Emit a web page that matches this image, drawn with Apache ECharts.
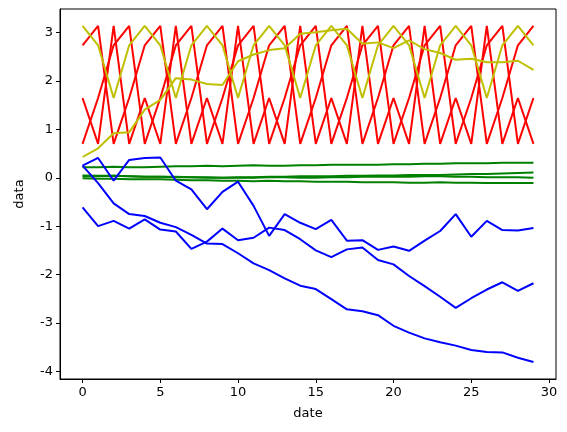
<!DOCTYPE html>
<html><head><meta charset="utf-8">
<script src="https://cdn.jsdelivr.net/npm/echarts@6/dist/echarts.min.js"></script>
<style>html,body{margin:0;padding:0;background:#fff}#c{width:567px;height:432px}</style>
</head><body><div id="c"></div>
<script>
const dates = Array.from({length:30},(_, i)=>i);
const xTicks = [0,5,10,15,20,25,30];
const yTicks = [-4,-3,-2,-1,0,1,2,3];
const redA = [2.74,3.14,0.70,1.65,2.74,3.14,0.70,1.65,2.74,3.14,0.70,1.65,2.74,3.14,0.70,1.65,2.74,3.14,0.70,1.65,2.74,3.14,0.70,1.65,2.74,3.14,0.70,1.65,2.74,3.14];
const redB = [1.65,0.70,3.14,0.70,1.65,0.70,3.14,0.70,1.65,0.70,3.14,0.70,1.65,0.70,3.14,0.70,1.65,0.70,3.14,0.70,1.65,0.70,3.14,0.70,1.65,0.70,3.14,0.70,1.65,0.70];
const redC = [0.70,1.65,2.74,3.14,0.70,1.65,2.74,3.14,0.70,1.65,2.74,3.14,0.70,1.65,2.74,3.14,0.70,1.65,2.74,3.14,0.70,1.65,2.74,3.14,0.70,1.65,2.74,3.14,0.70,1.65];
const yellow1 = [3.14,2.74,1.65,2.74,3.14,2.74,1.65,2.74,3.14,2.74,1.65,2.74,3.14,2.74,1.65,2.74,3.14,2.74,1.65,2.74,3.14,2.74,1.65,2.74,3.14,2.74,1.65,2.74,3.14,2.74];
const yellow2 = [0.43,0.61,0.92,0.94,1.41,1.61,2.06,2.03,1.94,1.92,2.41,2.55,2.64,2.68,2.98,3.01,3.05,3.08,2.77,2.80,2.68,2.84,2.66,2.58,2.44,2.46,2.39,2.39,2.42,2.23];
const green1 = [0.22,0.22,0.23,0.22,0.22,0.23,0.24,0.24,0.25,0.24,0.25,0.26,0.25,0.25,0.26,0.26,0.27,0.27,0.27,0.27,0.28,0.28,0.29,0.29,0.30,0.30,0.30,0.31,0.31,0.31];
const green2 = [0.05,0.04,0.04,0.03,0.02,0.02,0.01,0.01,0.00,0.00,0.01,0.01,0.02,0.02,0.03,0.03,0.03,0.04,0.04,0.05,0.05,0.06,0.06,0.06,0.07,0.08,0.08,0.09,0.10,0.11];
const green3 = [0.03,0.03,0.04,0.03,0.02,0.02,0.02,0.01,0.01,0.00,0.00,0.00,0.01,0.01,0.00,0.00,0.01,0.01,0.02,0.02,0.02,0.02,0.03,0.03,0.02,0.02,0.01,0.01,0.01,0.00];
const green4 = [-0.01,-0.02,-0.02,-0.03,-0.03,-0.03,-0.04,-0.05,-0.05,-0.06,-0.06,-0.07,-0.06,-0.07,-0.07,-0.08,-0.08,-0.08,-0.09,-0.09,-0.09,-0.10,-0.10,-0.09,-0.10,-0.10,-0.11,-0.11,-0.11,-0.11];
const blue1 = [0.25,0.41,-0.06,0.37,0.41,0.42,-0.06,-0.24,-0.65,-0.29,-0.08,-0.58,-1.20,-0.75,-0.93,-1.06,-0.87,-1.30,-1.29,-1.49,-1.42,-1.51,-1.30,-1.10,-0.75,-1.22,-0.89,-1.08,-1.09,-1.04];
const blue2 = [0.25,-0.11,-0.53,-0.75,-0.79,-0.93,-1.02,-1.18,-1.36,-1.37,-1.56,-1.77,-1.91,-2.08,-2.23,-2.30,-2.51,-2.72,-2.76,-2.84,-3.06,-3.20,-3.32,-3.40,-3.47,-3.56,-3.60,-3.61,-3.72,-3.81];
const blue3 = [-0.61,-1.00,-0.89,-1.05,-0.86,-1.07,-1.11,-1.47,-1.32,-1.05,-1.29,-1.24,-1.03,-1.08,-1.27,-1.50,-1.64,-1.48,-1.44,-1.70,-1.79,-2.03,-2.24,-2.46,-2.69,-2.49,-2.31,-2.16,-2.34,-2.18];

const groups = [
  [redA,'#ff0000'],[redB,'#ff0000'],[redC,'#ff0000'],
  [yellow1,'#bfbf00'],[yellow2,'#bfbf00'],
  [green1,'#008000'],[green2,'#008000'],[green3,'#008000'],[green4,'#008000'],
  [blue1,'#0000ff'],[blue2,'#0000ff'],[blue3,'#0000ff']
];
const series = groups.map(([d,c])=>({
  type:'line', data:d.map((v,i)=>[dates[i],v]), showSymbol:false, symbol:'none',
  lineStyle:{color:c,width:2}, animation:false
}));
const font = {fontFamily:'DejaVu Sans', fontSize:13, color:'#000'};
const chart = echarts.init(document.getElementById('c'),null,{renderer:'canvas'});
chart.setOption({
  animation:false,
  grid:{left:60,right:11,top:9,bottom:53,containLabel:false},
  xAxis:{type:'value',min:-1.45,max:30.45,name:'date',nameLocation:'middle',nameGap:28,nameTextStyle:font,
    axisLine:{onZero:false,lineStyle:{color:'#000',width:1}},
    axisTick:{show:true,customValues:xTicks,length:4,lineStyle:{color:'#000'}},
    axisLabel:{customValues:xTicks,...font,margin:7},splitLine:{show:false}},
  yAxis:{type:'value',min:-4.16,max:3.49,name:'data',nameLocation:'middle',nameGap:34,nameRotate:90,nameTextStyle:font,
    axisLine:{show:true,onZero:false,lineStyle:{color:'#000',width:1}},
    axisTick:{show:true,customValues:yTicks,length:4,lineStyle:{color:'#000'}},
    axisLabel:{customValues:yTicks,...font,margin:7},splitLine:{show:false}},
  series:series.concat([
    {type:'line',data:[],markArea:{silent:true,itemStyle:{color:'rgba(0,0,0,0)',borderColor:'#000',borderWidth:1},data:[[{coord:[-1.45,-4.16]},{coord:[30.45,3.49]}]]}}
  ])
});
</script></body></html>
